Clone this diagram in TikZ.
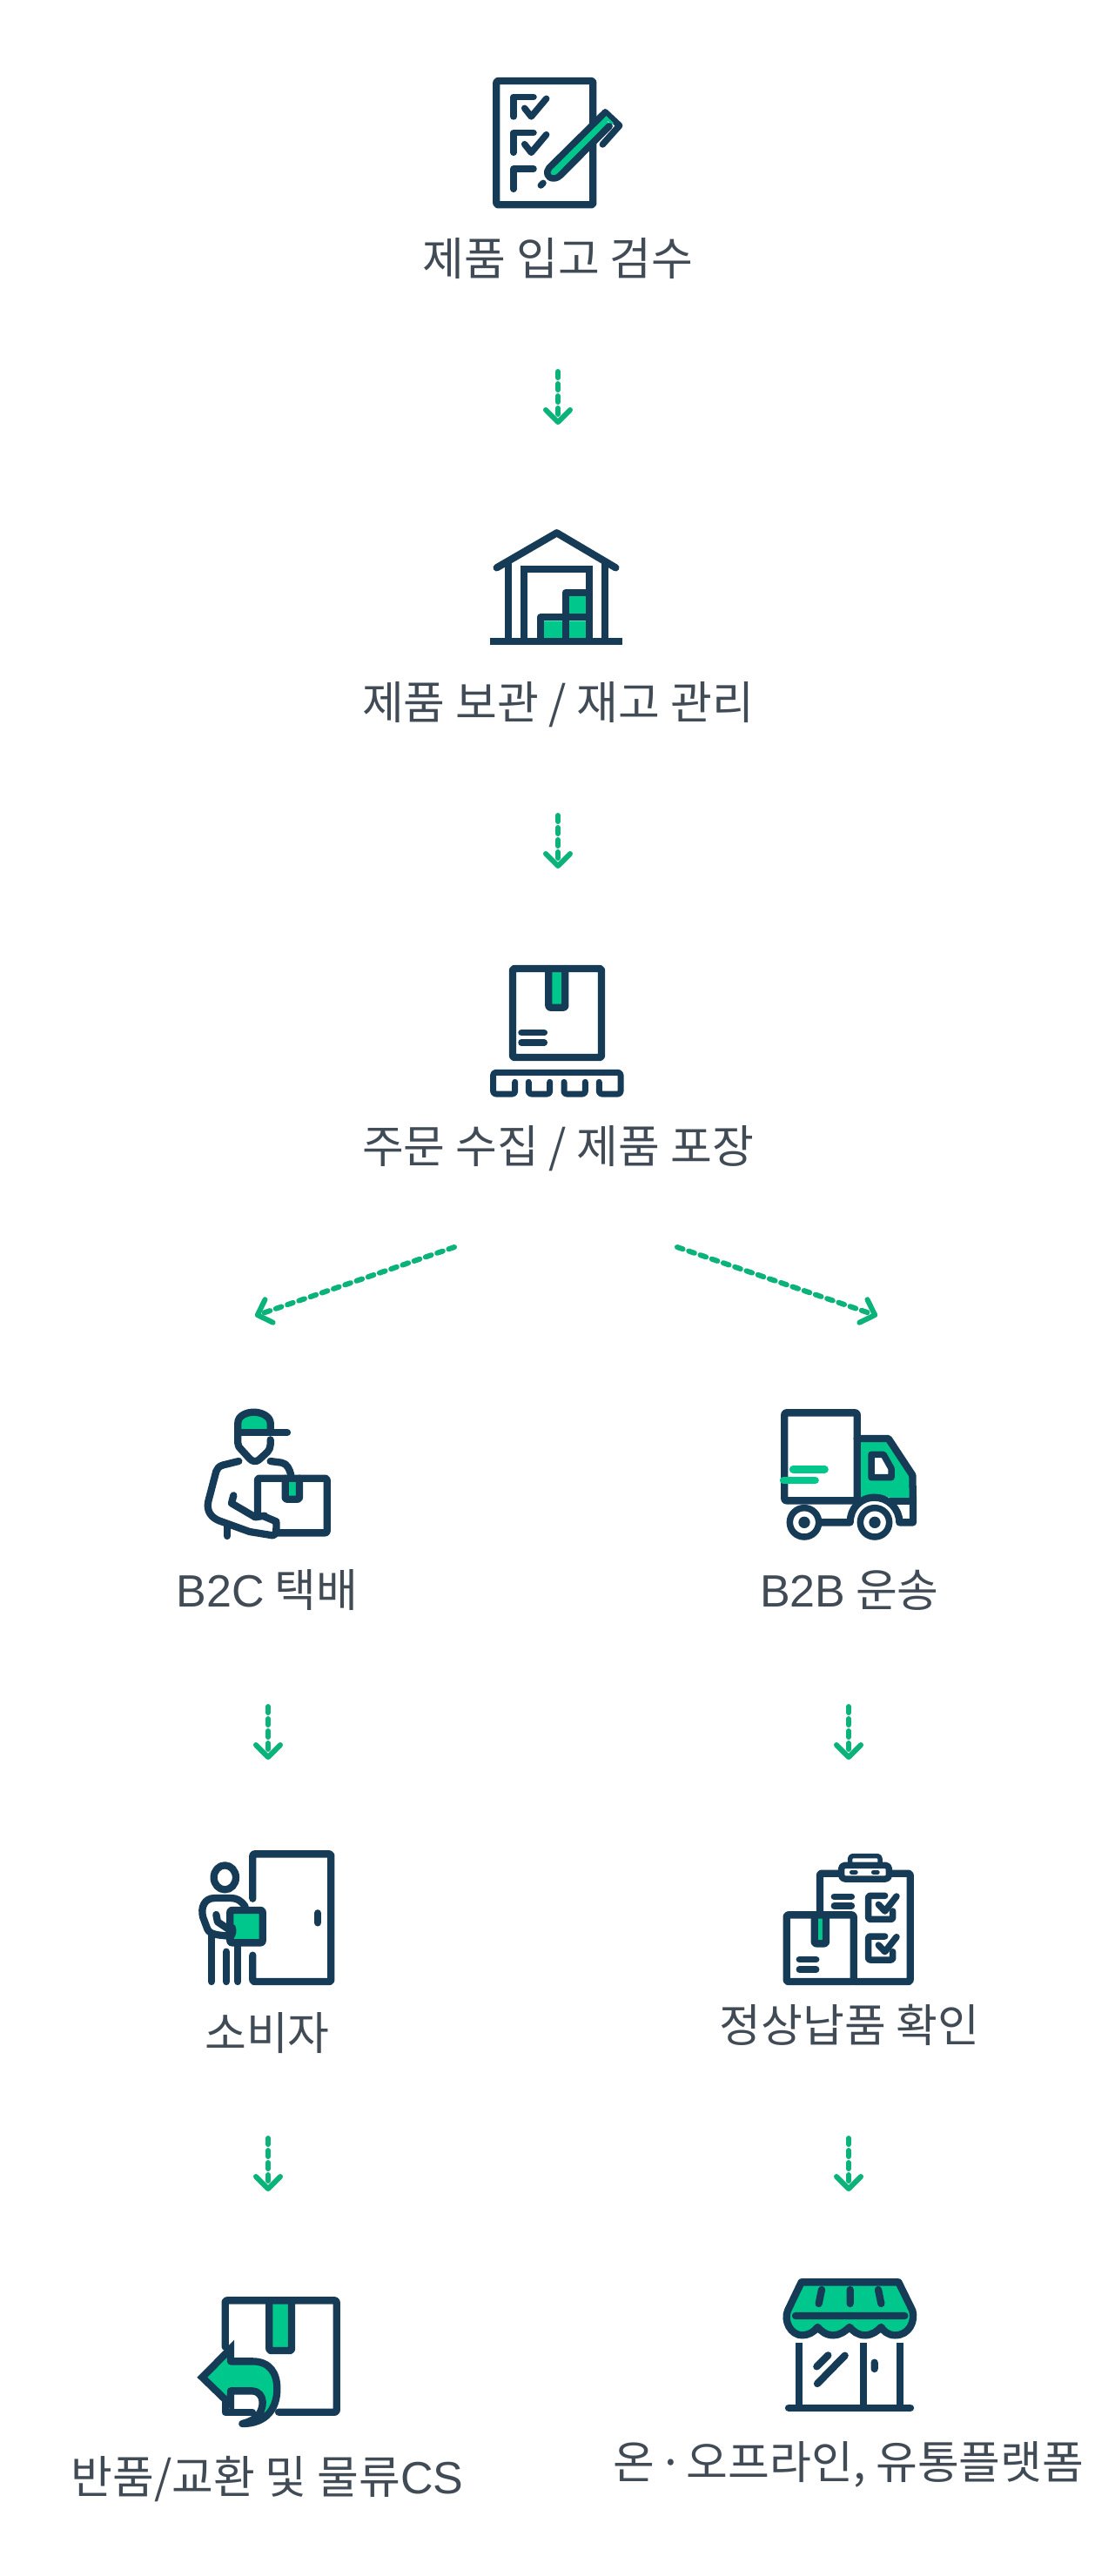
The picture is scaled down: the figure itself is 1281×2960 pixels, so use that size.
\documentclass[tikz,border=0pt]{standalone}
\usepackage{fontspec}
\setmainfont{Noto Sans CJK KR}
\newfontfamily\latinf{Liberation Sans}
\usetikzlibrary{arrows.meta}
\definecolor{ink}{HTML}{163B57}
\definecolor{leaf}{HTML}{00C78B}
\definecolor{flow}{HTML}{0BB27A}
\definecolor{txt}{HTML}{414B55}
\tikzset{
  z/.style n args={2}{shift={(#1,#2)},x=0.33333pt,y=-0.33333pt},
  icon/.style={draw=ink,line width=8.3pt,line join=round,line cap=round},
  thin/.style={icon,line width=7.5pt},
  butt/.style={icon,line cap=butt},
  gfill/.style={fill=leaf,draw=none},
  lab/.style={anchor=base,text=txt,font=\fontsize{52}{60}\selectfont,inner sep=0pt},
  flowdown/.style={draw=flow,line width=6pt,line cap=round,dash pattern=on 7pt off 7pt,
    -{Straight Barb[length=14pt,width=28pt,line width=6pt,round]}},
}
\begin{document}
\begin{tikzpicture}[x=1pt,y=-1pt]
\useasboundingbox[fill=white] (0,0) rectangle (1281,2960);
% ---- labels
\node[lab] (l1) at (641,316) {제품 입고 검수};
\node[lab] (l2) at (641,826) {제품 보관 / 재고 관리};
\node[lab] (l3) at (641,1336) {주문 수집 / 제품 포장};
\node[lab] (l4) at (307,1846) {{\latinf B2C} 택배};
\node[lab] (l5) at (976,1846) {{\latinf B2B} 운송};
\node[lab] (l6) at (307,2355) {소비자};
\node[lab] (l7) at (976,2346) {정상납품 확인};
\node[lab] (l8) at (307,2865) {반품/교환 및 물류{\latinf CS}};
\node[lab] (l9) at (975,2848) {온\kern-7pt{} · \kern-9pt{}오프라인, 유통플랫폼};
% ---- connector ends
\coordinate (a1s) at (641,427); \coordinate (a1e) at (641,488);
\coordinate (a2s) at (641,937); \coordinate (a2e) at (641,998);
\coordinate (a3s) at (522,1433); \coordinate (a3e) at (293,1512);
\coordinate (a4s) at (778,1433); \coordinate (a4e) at (1008,1512);
\coordinate (a5s) at (308,1961); \coordinate (a5e) at (308,2022);
\coordinate (a6s) at (975,1961); \coordinate (a6e) at (975,2022);
\coordinate (a7s) at (308,2457); \coordinate (a7e) at (308,2518);
\coordinate (a8s) at (975,2457); \coordinate (a8e) at (975,2518);
\foreach \n in {1,...,8}{\draw[flowdown] (a\n s) -- (a\n e);}
% ---- icon 1: checklist
\begin{scope}[z={440}{60}]
\draw[icon,rounded corners=2pt] (391,99) rectangle (724,526);
\foreach \d in {0,124}{
  \draw[thin] (519,154+\d) -- (450,154+\d) -- (450,222+\d);
  \draw[thin] (488,193+\d) -- (511,222+\d) -- (563,160+\d);
}
\draw[thin] (519,402) -- (450,402) -- (450,472);
\draw[thin] (544,459) -- (552,451);
\draw[thin] (766,207) -- (815,253) -- (757,318);
\draw[thin,fill=leaf] (766,207) -- (573,398) .. controls (560,412) and (565,435) .. (588,435)
  .. controls (600,435) and (608,428) .. (612,424) -- (780,255);
\fill[leaf] (770,220) -- (795,244) -- (788,250) -- (764,226) -- cycle;
\draw[thin] (612,424) -- (780,255);
\end{scope}
% ---- icon 2: warehouse
\begin{scope}[z={400}{580}]
\fill[leaf] (675,400) rectangle (738,460) (761,400) rectangle (821,460) (761,315) rectangle (821,377);
\draw[icon] (512,217) -- (719,97) -- (922,217);
\draw[butt] (552,195) -- (552,471) (886,195) -- (886,471);
\draw[butt,line join=miter] (606,471) -- (606,223) -- (832,223) -- (832,471);
\draw[butt] (663,471) -- (663,388) -- (749,388);
\draw[butt] (749,471) -- (749,303) -- (832,303);
\draw[butt] (749,388) -- (832,388);
\draw[butt] (490,471) -- (944,471);
\end{scope}
% ---- icon 3: box on pallet
\begin{scope}[z={400}{1080}]
\fill[leaf] (702,105) rectangle (736,222);
\draw[icon,rounded corners=2pt] (567,99) rectangle (873,405);
\draw[icon,rounded corners=2pt] (691,99) -- (691,233) -- (748,233) -- (748,99);
\draw[thin] (597,320) -- (676,320) (597,354) -- (676,354);
\draw[thin,rounded corners=3pt,line width=7pt] (575,490) -- (575,531) -- (500,531) -- (500,457) -- (939,457) -- (939,531) -- (865,531) -- (865,490);
\draw[thin,rounded corners=3pt,line width=7pt] (622,490) -- (622,531) -- (695,531) -- (695,490);
\draw[thin,rounded corners=3pt,line width=7pt] (744,490) -- (744,531) -- (817,531) -- (817,490);
\end{scope}
% ---- icon 4: courier
\begin{scope}[z={180}{1600}]
\fill[leaf] (452,300) rectangle (484,358);
\fill[leaf] (280,138) -- (280,105) .. controls (280,80) and (310,68) .. (335,68) .. controls (365,68) and (392,85) .. (392,105) -- (392,138) -- cycle;
\draw[icon] (280,138) -- (280,105) .. controls (280,80) and (310,68) .. (335,68) .. controls (365,68) and (392,85) .. (392,105) -- (392,138);
\draw[icon] (280,138) -- (450,138);
\draw[icon] (280,138) -- (280,175) .. controls (280,185) and (285,190) .. (290,195) -- (320,228) .. controls (330,240) and (346,240) .. (355,230) -- (382,205) .. controls (388,198) and (392,190) .. (392,180) -- (392,163);
\draw[icon] (283,237) -- (230,250) .. controls (215,254) and (208,262) .. (205,272) -- (178,375) .. controls (170,410) and (190,432) .. (215,442) -- (320,480) -- (400,493) .. controls (412,490) and (413,480) .. (412,445) -- (372,428);
\draw[icon] (392,237) -- (430,242) .. controls (450,245) and (458,265) .. (463,285);
\draw[icon] (265,355) -- (258,382) -- (340,430) -- (372,425);
\draw[icon] (243,462) -- (243,495);
\draw[icon,rounded corners=2pt] (348,425) -- (348,296) -- (587,296) -- (587,484) -- (415,484);
\draw[icon,rounded corners=2pt] (443,296) -- (443,368) -- (492,368) -- (492,296);
\end{scope}
% ---- icon 5: truck
\begin{scope}[z={860}{1600}]
\fill[leaf] (385,165) -- (480,165) -- (555,285) -- (555,365) -- (490,365) .. controls (470,350) and (410,350) .. (385,365) -- cycle;
\draw[icon,rounded corners=2pt] (124,70) rectangle (374,373);
\draw[icon] (374,159) -- (482,159) -- (565,285) -- (567,380) -- (567,448) -- (520,448) .. controls (520,400) and (480,362) .. (435,362) .. controls (385,362) and (350,400) .. (350,448) -- (245,448);
\draw[icon] (490,375) -- (567,375);
\draw[thin,fill=white] (423,214) -- (465,214) -- (492,262) -- (492,293) -- (423,293) -- cycle;
\draw[icon,leaf] (153,265) -- (263,265) (120,303) -- (230,303);
\foreach \c in {192,435}{
  \draw[thin,fill=white] (\c,448) circle [radius=50];
  \fill[ink] (\c,448) circle [radius=20];
}
\end{scope}
% ---- icon 6: consumer at door
\begin{scope}[z={200}{2100}]
\draw[icon,rounded corners=2pt] (271,245) -- (271,91) -- (541,91) -- (541,531) -- (271,531) -- (271,440);
\draw[icon] (495,295) -- (495,328);
\draw[icon] (175,172) circle [x radius=38,y radius=42];
\draw[icon] (245,272) .. controls (230,250) and (215,243) .. (195,243) -- (140,243) .. controls (105,243) and (90,275) .. (100,310) -- (115,350) .. controls (125,372) and (160,370) .. (195,375);
\draw[icon] (145,300) -- (150,325) -- (195,355);
\draw[icon] (129,372) -- (129,531) (180,428) -- (180,531) (220,397) -- (220,531);
\draw[icon,fill=leaf,rounded corners=2pt] (193,285) rectangle (305,397);
\draw[icon,line width=4pt] (205,340) .. controls (212,355) and (208,368) .. (200,380);
\end{scope}
% ---- icon 7: delivery confirmation
\begin{scope}[z={880}{2110}]
\fill[leaf] (178,282) rectangle (195,358);
\draw[icon,rounded corners=2pt] (250,128) -- (186,128) -- (186,270);
\draw[icon,rounded corners=2pt] (430,128) -- (497,128) -- (497,501) -- (303,501);
\draw[thin,rounded corners=4pt,fill=white] (260,100) rectangle (424,147);
\draw[thin,rounded corners=3pt,line width=5.5pt] (290,100) -- (290,68) -- (393,68) -- (393,100);
\draw[thin,line width=4.8pt] (295,124) -- (310,124) (370,124) -- (385,124);
\draw[thin] (235,208) -- (295,208) (235,240) -- (295,240);
\foreach \d in {0,140}{
  \draw[thin,rounded corners=2pt] (410,205+\d) -- (353,205+\d) -- (353,286+\d) -- (437,286+\d) -- (437,258+\d);
  \draw[thin] (388,235+\d) -- (410,258+\d) -- (450,207+\d);
}
\draw[icon,rounded corners=2pt] (71,271) rectangle (302,501);
\draw[icon,rounded corners=2pt] (167,271) -- (167,370) -- (207,370) -- (207,271);
\draw[thin] (115,425) -- (173,425) (115,459) -- (173,459);
\end{scope}
% ---- icon 8: return
\begin{scope}[z={210}{2620}]
\fill[leaf] (310,82) rectangle (363,232);
\draw[icon,rounded corners=2pt] (146,230) -- (146,70) -- (530,70) -- (530,455) -- (330,455);
\draw[icon] (146,410) -- (146,455) -- (240,455);
\draw[icon,rounded corners=2pt] (298,70) -- (298,243) -- (375,243) -- (375,70);
\fill[leaf] (67,335) -- (165,236) -- (165,280) -- (240,280) .. controls (300,280) and (325,320) .. (325,375) .. controls (325,440) and (290,495) .. (205,495) .. controls (245,485) and (275,465) .. (275,420) .. controls (275,400) and (260,382) .. (240,382) -- (165,382) -- (165,430) -- cycle;
\draw[icon,line join=miter,line cap=butt,miter limit=6] (165,280) -- (165,236) -- (67,335) -- (165,430) -- (165,382);
\draw[icon] (165,280) -- (240,280) .. controls (300,280) and (325,320) .. (325,375) .. controls (325,440) and (290,495) .. (205,495) .. controls (245,485) and (275,465) .. (275,420) .. controls (275,400) and (260,382) .. (240,382) -- (165,382);
\end{scope}
% ---- icon 9: shop
\begin{scope}[z={880}{2600}]
\draw[icon,fill=leaf] (122,67) -- (457,67) -- (505,165) .. controls (515,200) and (495,250) .. (445,250) .. controls (420,250) and (405,235) .. (397,222) .. controls (385,235) and (365,250) .. (342,250) .. controls (315,250) and (300,235) .. (288,222) .. controls (275,235) and (255,250) .. (233,250) .. controls (205,250) and (190,235) .. (178,222) .. controls (165,240) and (145,250) .. (125,250) .. controls (85,250) and (60,200) .. (75,165) -- cycle;
\draw[icon] (102,183) -- (478,183) (192,93) -- (182,141) (290,93) -- (290,141) (387,93) -- (397,141);
\draw[butt] (114,276) -- (114,500) (337,276) -- (337,500) (462,276) -- (462,500);
\draw[icon] (78,500) -- (498,500);
\draw[icon] (175,358) -- (214,319) (177,417) -- (272,320) (374,344) -- (374,366);
\end{scope}
\end{tikzpicture}
\end{document}
